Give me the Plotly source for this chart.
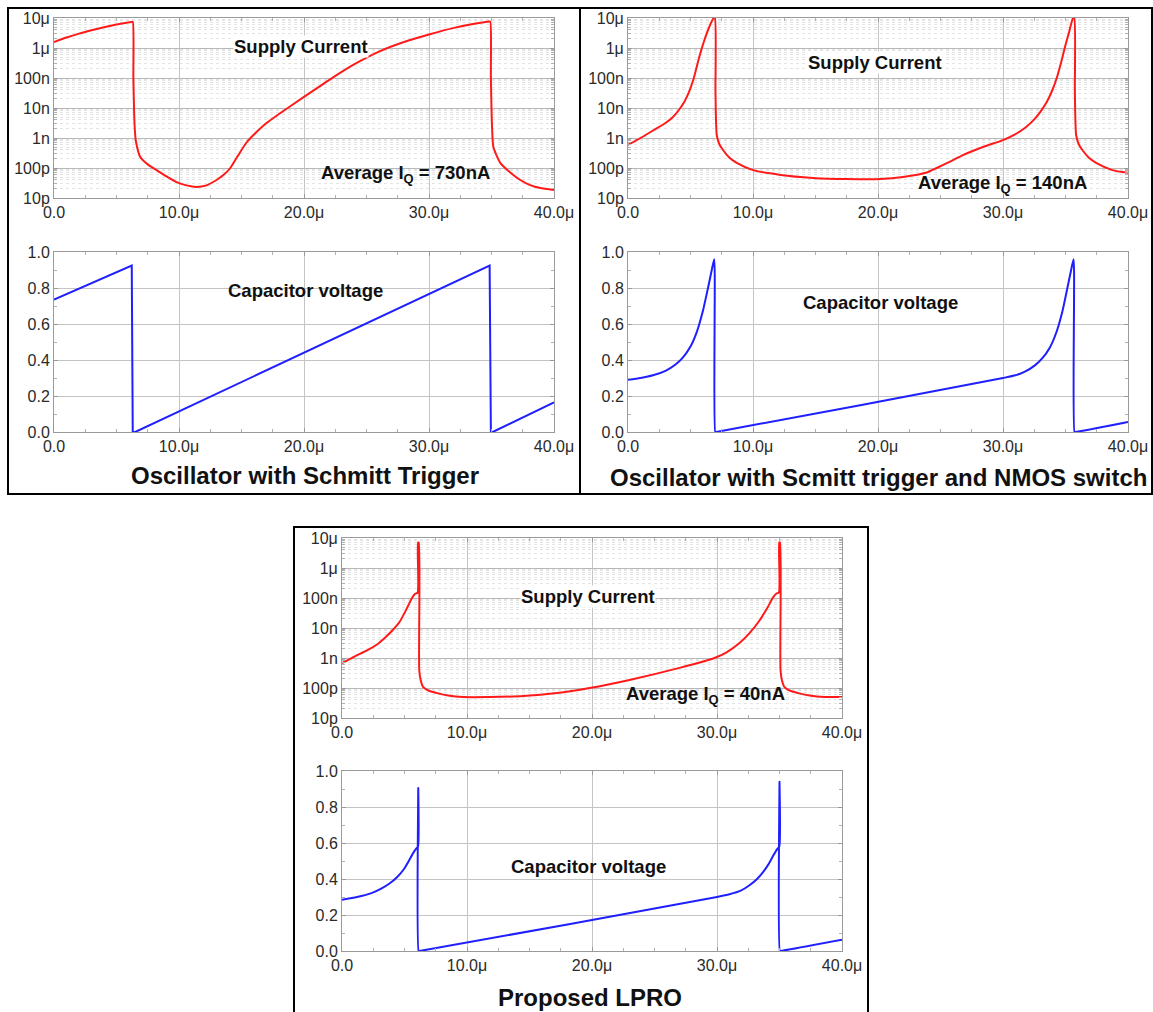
import plotly.graph_objects as go

W, H = 1153, 1012

# ---------------- data (time in µs) ----------------
# Panel A: Oscillator with Schmitt Trigger
t_a_cur = [0, 1, 2, 3, 4, 5, 6.2, 6.3, 6.35, 6.45, 6.55, 6.9, 7.5, 8.2, 9.0, 9.8, 10.6, 11.4, 12.2, 13.0,
           13.6, 14.1, 14.7, 15.4, 16.2, 17.0, 18.0, 20.0, 22.0, 24.0, 26.0, 28.0, 30.0, 32.0, 34.0, 34.8,
           34.9, 34.95, 35.05, 35.15, 35.7, 36.5, 37.3, 38.1, 38.9, 40]
i_a_cur = [1.58e-6, 2.24e-6, 3.02e-6, 3.89e-6, 4.90e-6, 6.03e-6, 7.41e-6, 7.41e-6, 1.0e-7, 2.51e-9, 7.94e-10,
           2.34e-10, 1.32e-10, 8.5e-11, 5.25e-11, 3.39e-11, 2.63e-11, 2.34e-11, 2.63e-11, 3.98e-11,
           6.03e-11, 1.0e-10, 2.51e-10, 7.08e-10, 1.58e-9, 3.16e-9, 6.31e-9, 2.34e-8, 8.51e-8, 2.82e-7,
           7.59e-7, 1.58e-6, 2.82e-6, 4.68e-6, 6.76e-6, 7.59e-6,
           7.59e-6, 1.0e-7, 2.0e-9, 5.01e-10, 1.48e-10, 7.08e-11, 3.98e-11, 2.69e-11, 2.14e-11, 1.86e-11]
t_a_v = [0, 6.22, 6.3, 6.5, 34.85, 34.95, 35.1, 40]
v_a = [0.735, 0.925, 0.0, 0.0, 0.925, 0.0, 0.0, 0.165]

# Panel B: Oscillator with Schmitt trigger and NMOS switch
t_b_cur = [0, 1.0, 2.0, 3.0, 3.6, 4.1, 4.5, 4.9, 5.3, 5.7, 6.1, 6.5, 6.85, 6.95, 7.0, 7.1, 7.3, 7.6, 8.1, 8.7,
           10.0, 12.2, 14.8, 17.5, 20.2, 22.0, 23.9, 24.7, 25.8, 26.8, 28.4, 30.0, 31.0, 31.8, 32.5, 33.0,
           33.5, 33.9, 34.3, 34.7, 35.0, 35.3, 35.6, 35.7, 35.75, 35.85, 36.05, 36.35, 36.85, 37.45, 38.75, 40]
i_b_cur = [5.89e-10, 1.0e-9, 1.78e-9, 3.16e-9, 5.01e-9, 8.91e-9, 1.58e-8, 3.55e-8, 1.12e-7, 5.01e-7,
           1.78e-6, 5.01e-6, 1.0e-5, 1.0e-5, 3.16e-8, 1.26e-9, 6.31e-10, 3.98e-10, 2.24e-10, 1.48e-10,
           8.51e-11, 5.89e-11, 4.68e-11, 4.27e-11, 4.27e-11, 5.01e-11, 7.08e-11, 1.0e-10, 1.66e-10,
           2.69e-10, 5.01e-10, 8.51e-10, 1.35e-9, 2.24e-9, 4.17e-9, 7.59e-9,
           1.58e-8, 3.55e-8, 1.0e-7, 3.98e-7, 1.26e-6, 3.55e-6, 1.0e-5, 1.0e-5, 3.16e-8, 1.26e-9,
           6.31e-10, 3.98e-10, 2.24e-10, 1.48e-10, 8.51e-11, 6.9e-11]
t_b_v = [0, 1, 2, 3, 3.8, 4.4, 5.0, 5.5, 6.0, 6.4, 6.7, 6.9, 6.98, 7.05, 30, 31, 31.75, 32.55, 33.15, 33.75,
         34.25, 34.75, 35.15, 35.45, 35.65, 35.72, 35.8, 40]
v_b = [0.29, 0.30, 0.315, 0.34, 0.375, 0.415, 0.475, 0.555, 0.675, 0.80, 0.90, 0.96, 0.0, 0.0, 0.30, 0.315,
       0.335, 0.37, 0.41, 0.47, 0.55, 0.67, 0.80, 0.90, 0.96, 0.0, 0.0, 0.056]

# Panel C: Proposed LPRO
t_c_cur = [0, 1.0, 2.0, 2.8, 3.5, 4.1, 4.6, 5.0, 5.3, 5.6, 5.85, 6.05, 6.08, 6.14, 6.18, 6.3, 6.5, 7.0, 7.6,
           8.5, 9.7, 11.8, 14.5, 17.2, 19.8, 23.0, 27.0, 29.8, 30.8, 31.8, 32.6, 33.4, 34.0, 34.5, 34.75,
           34.95, 34.98, 35.04, 35.08, 35.2, 35.4, 35.9, 36.5, 37.4, 38.6, 40]
i_c_cur = [6.76e-10, 1.12e-9, 1.78e-9, 2.82e-9, 5.01e-9, 8.91e-9, 1.58e-8, 3.16e-8, 5.62e-8, 1.0e-7,
           1.38e-7, 1.51e-7, 7.08e-6, 7.08e-6, 3.98e-10, 1.78e-10, 1.07e-10, 7.94e-11, 6.76e-11,
           5.62e-11, 5.01e-11, 5.01e-11, 5.37e-11, 6.76e-11, 1.0e-10, 1.86e-10, 4.68e-10, 1.0e-9,
           1.58e-9, 3.16e-9, 6.76e-9, 1.78e-8, 4.47e-8, 1.07e-7, 1.41e-7,
           1.51e-7, 7.08e-6, 7.08e-6, 3.98e-10, 1.78e-10, 1.07e-10, 7.94e-11, 6.76e-11, 5.62e-11,
           5.01e-11, 5.01e-11]
t_c_v = [0, 1.2, 2.3, 3.1, 3.8, 4.4, 4.9, 5.3, 5.7, 5.95, 6.08, 6.1, 6.13, 6.2, 30, 31, 31.9, 32.6, 33.2,
         33.7, 34.1, 34.5, 34.8, 34.98, 35.0, 35.03, 35.1, 40]
v_c = [0.285, 0.30, 0.32, 0.345, 0.375, 0.41, 0.45, 0.495, 0.545, 0.57, 0.58, 0.905, 0.0, 0.0, 0.30,
       0.315, 0.335, 0.365, 0.40, 0.44, 0.48, 0.53, 0.565, 0.58, 0.94, 0.0, 0.0, 0.062]

# ---------------- axis labels ----------------
x_tickvals = [0, 10, 20, 30, 40]
x_ticktext = ["0.0", "10.0μ", "20.0μ", "30.0μ", "40.0μ"]
i_tickvals = [1e-11, 1e-10, 1e-9, 1e-8, 1e-7, 1e-6, 1e-5]
i_ticktext = ["10p", "100p", "1n", "10n", "100n", "1μ", "10μ"]
v_tickvals = [0.0, 0.2, 0.4, 0.6, 0.8, 1.0]
v_ticktext = ["0.0", "0.2", "0.4", "0.6", "0.8", "1.0"]

titles = ["Oscillator with Schmitt Trigger", "Oscillator with Scmitt trigger and NMOS switch", "Proposed LPRO"]
avg_labels = ["Average I<sub>Q</sub> = 730nA", "Average I<sub>Q</sub> = 140nA", "Average I<sub>Q</sub> = 40nA"]

RED = "#ff1a1a"
BLUE = "#1f1fff"
FONT = "Liberation Sans, Arial, sans-serif"

# pixel layout of plot areas in page pixels: (x0, x1, top_y0, top_y1, bot_y0, bot_y1)
panels = [
    (54, 554, 18, 198, 252, 432),
    (628, 1128, 18, 198, 252, 432),
    (342, 842, 538, 718, 771, 951),
]

def px(a):
    return a / W

def py(a):
    return 1 - a / H

def xd(a, b):
    return [px(a), px(b)]

def yd(a, b):
    return [py(b), py(a)]

fig = go.Figure()
layout = {}

cur_data = [(t_a_cur, i_a_cur), (t_b_cur, i_b_cur), (t_c_cur, i_c_cur)]
v_data = [(t_a_v, v_a), (t_b_v, v_b), (t_c_v, v_c)]

minor_log = [m * 10.0 ** e for e in range(-11, -5) for m in range(2, 10)]
minor_x = [2.5, 5, 7.5, 12.5, 15, 17.5, 22.5, 25, 27.5, 32.5, 35, 37.5]

tickfont = dict(family=FONT, size=16, color="#2a2a2a")

for p, (x0, x1, ty0, ty1, by0, by1) in enumerate(panels):
    for k in range(2):
        n = p * 2 + k + 1
        sfx = "" if n == 1 else str(n)
        xa, ya = "xaxis" + sfx, "yaxis" + sfx
        if k == 0:
            t, y = cur_data[p]
            color = RED
            ydom = yd(ty0, ty1)
            shape = "spline"
        else:
            t, y = v_data[p]
            color = BLUE
            ydom = yd(by0, by1)
            shape = "spline" if p > 0 else "linear"
        fig.add_trace(go.Scatter(x=t, y=y, mode="lines",
                                 line=dict(color=color, width=2, shape=shape, smoothing=0.6),
                                 xaxis="x" + sfx, yaxis="y" + sfx, showlegend=False, hoverinfo="skip"))
        layout[xa] = dict(
            domain=xd(x0, x1), anchor="y" + sfx, range=[0, 40], automargin=False,
            tickmode="array", tickvals=x_tickvals, ticktext=x_ticktext,
            tickfont=tickfont, showgrid=True, gridcolor="#c4c4c4", gridwidth=1,
            showline=True, linecolor="#9a9a9a", linewidth=1, mirror="ticks",
            ticks="inside", ticklen=4, tickcolor="#9a9a9a", zeroline=False,
            minor=dict(tickmode="array", tickvals=minor_x, ticks="inside", ticklen=3,
                       tickcolor="#b0b0b0", showgrid=False),
        )
        if k == 0:
            layout[ya] = dict(
                domain=ydom, anchor="x" + sfx, type="log", range=[-11, -5], automargin=False,
                tickmode="array", tickvals=i_tickvals, ticktext=i_ticktext,
                tickfont=tickfont, showgrid=True, gridcolor="#b8b8b8", gridwidth=1,
                showline=True, linecolor="#9a9a9a", linewidth=1, mirror="ticks",
                ticks="inside", ticklen=4, tickcolor="#9a9a9a", zeroline=False,
                minor=dict(tickmode="array", tickvals=minor_log, ticks="inside", ticklen=3,
                           tickcolor="#b0b0b0", showgrid=True, gridcolor="#e4e4e4",
                           griddash="dot", gridwidth=1),
            )
        else:
            layout[ya] = dict(
                domain=ydom, anchor="x" + sfx, range=[0, 1.0], automargin=False,
                tickmode="array", tickvals=v_tickvals, ticktext=v_ticktext,
                tickfont=tickfont, showgrid=True, gridcolor="#c4c4c4", gridwidth=1,
                showline=True, linecolor="#9a9a9a", linewidth=1, mirror="ticks",
                ticks="inside", ticklen=4, tickcolor="#9a9a9a", zeroline=False,
                minor=dict(tickmode="array", tickvals=[0.1, 0.3, 0.5, 0.7, 0.9], ticks="inside",
                           ticklen=3, tickcolor="#b0b0b0", showgrid=False),
            )

# annotations (page-pixel centres)
def ann(text, cx, cy, size=18.5, bg="white"):
    return dict(text=text, x=px(cx), y=py(cy), xref="paper", yref="paper",
                xanchor="center", yanchor="middle", showarrow=False,
                font=dict(family=FONT, size=size, color="#111"),
                bgcolor=bg, borderpad=0)

CLEAR = "rgba(0,0,0,0)"
annotations = [
    ann("<b>Supply Current</b>", 301, 47),
    ann("<b>" + avg_labels[0] + "</b>", 405, 174, bg=CLEAR),
    ann("<b>Capacitor voltage</b>", 305, 290, bg=CLEAR),
    ann("<b>" + titles[0] + "</b>", 305, 476, size=24, bg=CLEAR),
    ann("<b>Supply Current</b>", 875, 63),
    ann("<b>" + avg_labels[1] + "</b>", 1002, 184, bg=CLEAR),
    ann("<b>Capacitor voltage</b>", 880, 303, bg=CLEAR),
    ann("<b>" + titles[1] + "</b>", 878, 478, size=24, bg=CLEAR),
    ann("<b>Supply Current</b>", 588, 596),
    ann("<b>" + avg_labels[2] + "</b>", 705, 695, bg=CLEAR),
    ann("<b>Capacitor voltage</b>", 588, 866, bg=CLEAR),
    ann("<b>" + titles[2] + "</b>", 590, 997, size=24, bg=CLEAR),
]

def rect(x0, y0, x1, y1):
    return dict(type="rect", xref="paper", yref="paper", x0=px(x0), x1=px(x1),
                y0=py(y1), y1=py(y0), line=dict(color="black", width=2),
                fillcolor="rgba(0,0,0,0)", layer="above")

shapes = [rect(8, 8, 580, 494), rect(580, 8, 1152, 494), rect(294, 527, 868, 1016)]

fig.update_layout(
    width=W, height=H, margin=dict(l=0, r=0, t=0, b=0, autoexpand=False),
    paper_bgcolor="white", plot_bgcolor="white",
    annotations=annotations, shapes=shapes, showlegend=False,
    **layout,
)

fig.write_html("out.html", config={"displayModeBar": False},
               post_script="document.body.style.margin='0px';")
